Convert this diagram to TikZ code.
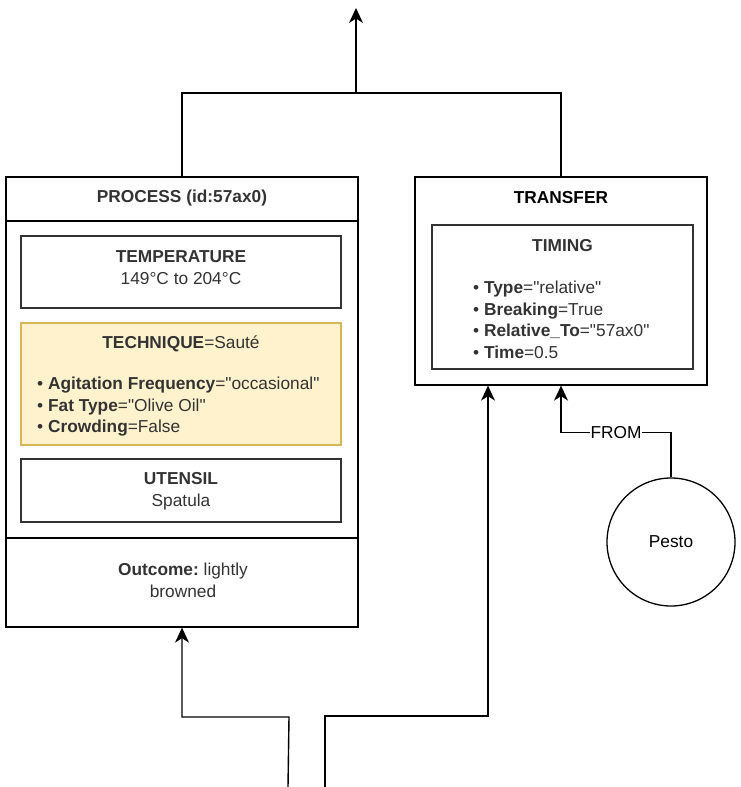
\documentclass[tikz,border=0pt]{standalone}
\usepackage{fontspec}
\setmainfont{Liberation Sans}[Ligatures=TeXOff]
\usetikzlibrary{positioning,arrows.meta}
\definecolor{txtgray}{HTML}{333333}
\definecolor{techfill}{HTML}{FFF2CC}
\definecolor{techline}{HTML}{D6B656}
\newcommand\lblfont{\fontsize{17.3}{21.5}\selectfont\frenchspacing}
\tikzset{
box/.style={rectangle,draw=txtgray,line width=1.5pt,inner sep=0pt},
lbl/.style={font=\lblfont,text=txtgray,align=center,inner sep=0pt},
wire/.style={draw=black,line width=1.4pt},
link/.style={wire,-{Stealth[length=15pt,width=14pt,inset=4.5pt]}}
}
\begin{document}
\begin{tikzpicture}[x=1pt,y=-1pt]
\useasboundingbox (0,0) rectangle (741,787);
% process
\node[box,draw=black,line width=1.3pt,minimum width=352pt,minimum height=450pt] (proc) at (182,402) {};
\node[lbl,font=\lblfont\bfseries] (proctitle) at (182,198) {PROCESS (id:57ax0)};
\draw[line width=1.3pt] (proc.west |- 0,221) -- (proc.east |- 0,221);
\draw[line width=1.3pt] (proc.west |- 0,538) -- (proc.east |- 0,538);
\node[box,minimum width=320pt,minimum height=72pt] (tempbox) at (181,272) {};
\node[lbl] (temptxt) at (181,267.5) {\textbf{TEMPERATURE}\\149°C to 204°C};
\node[box,draw=techline,fill=techfill,line width=1.3pt,minimum width=320pt,minimum height=122pt] (techbox) at (181,384) {};
\node[lbl] (techtitle) at (181,344) {\textbf{TECHNIQUE}=Sauté};
\node[lbl,align=left,anchor=west] (techlist) at (37,407) {• \textbf{Agitation Frequency}="occasional"\\• \textbf{Fat Type}="Olive Oil"\\• \textbf{Crowding}=False};
\node[box,minimum width=320pt,minimum height=63pt] (utenbox) at (181,490.5) {};
\node[lbl] (utentxt) at (181,491) {\textbf{UTENSIL}\\Spatula};
\node[lbl] (outcome) at (183,580.5) {\textbf{Outcome:} lightly\\browned};
% transfer
\node[box,draw=black,line width=1.3pt,minimum width=292pt,minimum height=208pt] (trans) at (561,281) {};
\node[lbl,text=black,font=\lblfont\bfseries] (transtitle) at (561,198) {TRANSFER};
\node[box,minimum width=261pt,minimum height=144pt] (timebox) at (562.5,297) {};
\node[lbl] (timetitle) at (562.5,246) {\textbf{TIMING}};
\node[lbl,align=left,anchor=west] (timelist) at (473,320) {• \textbf{Type}="relative"\\• \textbf{Breaking}=True\\• \textbf{Relative\_To}="57ax0"\\• \textbf{Time}=0.5};
\node[circle,draw=black,line width=1.3pt,minimum size=128pt,lbl,text=black] (pesto) at (671,542) {Pesto};
% connectors
\coordinate (join) at (356,93);
\coordinate (out) at (356,8);
\coordinate (in1) at (288,787);
\coordinate (in2) at (325,787);
\draw[wire] (proc.north) |- (join);
\draw[wire] (trans.north) |- (join);
\draw[link] (join) -- (out);
\draw[link] (in1) -- (289,717) -| (proc.south);
\draw[link] (in2) -- (325,716) -| ([xshift=-73pt]trans.south);
\draw[link] (pesto.north) |- node[pos=0.75,lbl,text=black,fill=white,inner sep=1pt]{FROM} ([yshift=-47pt]trans.south) -- (trans.south);
\end{tikzpicture}
\end{document}
